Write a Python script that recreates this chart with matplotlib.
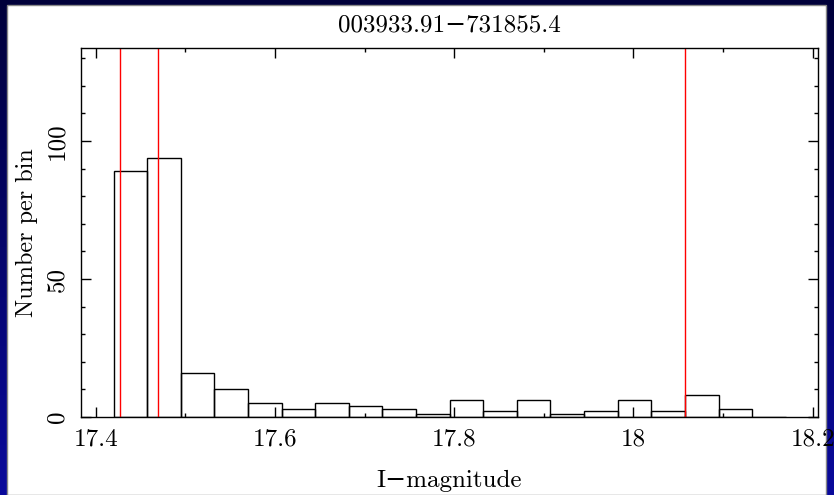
import numpy as np
import matplotlib
matplotlib.use("Agg")
import matplotlib.pyplot as plt
from matplotlib.ticker import MultipleLocator
from matplotlib.colors import LinearSegmentedColormap
from matplotlib.patches import Rectangle

# ---- data ----
title = "003933.91\u2212731855.4"
x_label = "I\u2212magnitude"
y_label = "Number per bin"
bin_start = 17.42
bin_width = 0.0375
counts = [89, 94, 16, 10, 5, 3, 5, 4, 3, 1, 6, 2, 6, 1, 2, 6, 2, 8, 3, 0]
red_lines = [17.4275, 17.4695, 18.058]
xticks = [17.4, 17.6, 17.8, 18.0, 18.2]
xticklabels = ["17.4", "17.6", "17.8", "18", "18.2"]
yticks = [0, 50, 100]
yticklabels = ["0", "50", "100"]

plt.rcParams["font.family"] = ["cmr10", "DejaVu Serif"]
plt.rcParams["axes.unicode_minus"] = False
FS = 18

W, H = 834, 495
fig = plt.figure(figsize=(W / 100, H / 100), dpi=100)

# background: blue gradient frame + white panel
bg = fig.add_axes([0, 0, 1, 1])
cmap = LinearSegmentedColormap.from_list("bgc", ["#00003a", "#0a0a9c"])
grad = np.linspace(0, 1, 256).reshape(-1, 1)
bg.imshow(grad, extent=[0, 1, 0, 1], aspect="auto", cmap=cmap, origin="upper")
bg.add_patch(Rectangle((7 / W, 0), (826 - 7) / W, (H - 5) / H,
                       facecolor="white", edgecolor="#888888", lw=1))
bg.set_xlim(0, 1)
bg.set_ylim(0, 1)
bg.axis("off")

ax = fig.add_axes([81 / W, 1 - 417 / H, (818 - 81) / W, (417 - 48) / H])
ax.set_facecolor("none")
edges = bin_start + bin_width * np.arange(len(counts) + 1)
ax.bar(edges[:-1], counts, width=bin_width, align="edge",
       facecolor="none", edgecolor="black", linewidth=1.0)
for xv in red_lines:
    ax.axvline(xv, color="red", linewidth=1.0)

ax.set_xlim(17.3836, 18.206)
ax.set_ylim(0, 133.7)
ax.set_xticks(xticks)
ax.set_xticklabels(xticklabels, fontsize=FS)
ax.set_yticks(yticks)
ax.set_yticklabels(yticklabels, fontsize=FS, rotation=90, va="center")
ax.xaxis.set_minor_locator(MultipleLocator(0.1))
ax.yaxis.set_minor_locator(MultipleLocator(10))
ax.tick_params(which="both", direction="in", top=True, right=True, width=1)
ax.tick_params(which="major", length=7)
ax.tick_params(which="minor", length=3.2)
ax.tick_params(axis="x", which="major", pad=8)
ax.tick_params(axis="y", which="major", pad=9)
for s in ax.spines.values():
    s.set_linewidth(1.0)

ax.set_title(title, fontsize=FS, pad=12)
ax.set_xlabel(x_label, fontsize=FS, labelpad=14)
ax.set_ylabel(y_label, fontsize=17.5, labelpad=6)

fig.savefig("out.png", dpi=100)
